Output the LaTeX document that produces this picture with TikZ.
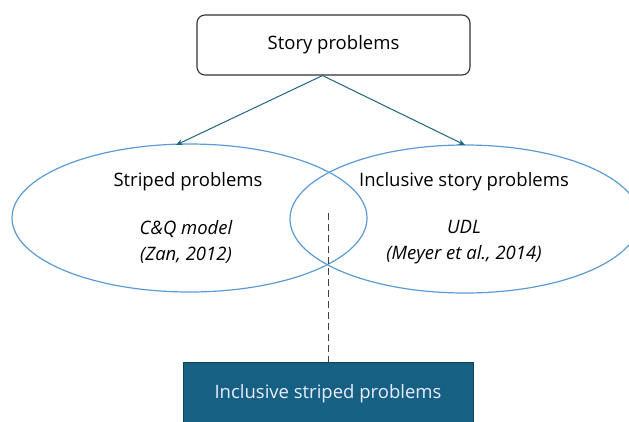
\documentclass[tikz,border=0pt]{standalone}
\usepackage{fontspec}
\setmainfont{Open Sans}
\usetikzlibrary{arrows.meta}
\definecolor{teal}{HTML}{1F6482}
\definecolor{venn}{HTML}{5B9BD5}
\definecolor{boxfill}{HTML}{166083}

\begin{document}
\begin{tikzpicture}[
    x=1pt, y=-1pt,
    >={Stealth[length=2.4mm, width=2mm]},
    line/.style   = {line width=1pt, draw=teal},
    topbox/.style = {draw=black!80, line width=1.1pt, rounded corners=8pt, fill=white,
                     minimum height=60pt, minimum width=273pt},
    txt/.style    = {font=\fontsize{18.5}{22}\selectfont},
    ref/.style    = {font=\fontsize{18.5}{26}\selectfont\itshape, align=center}
]
\useasboundingbox (0,0) rectangle (629,421);

% top category
\node[topbox, txt] (story) at (333.5, 45) {Story problems};

% two overlapping sets
\draw[venn, line width=1.2pt] (189.5, 218) ellipse [x radius=177.5, y radius=74];
\draw[venn, line width=1.2pt] (465, 219) ellipse [x radius=175, y radius=74];
\coordinate (striped) at (176, 145);
\coordinate (inclusive) at (465, 145);

\node[txt] (stripedtitle) at (188, 182) {Striped problems};
\node[ref] (cq) at (186, 242) {C\&Q model\\(Zan, 2012)};
\node[txt] (inctitle) at (464, 182) {Inclusive story problems};
\node[ref] (udl) at (464, 242) {UDL\\(Meyer et al., 2014)};

% split arrows
\draw[->, line] (story.south) ++(-11,0) coordinate (split) -- (striped);
\draw[->, line] (split) -- (inclusive);

% overlap pointer
\node[draw=boxfill!70!black, line width=1pt, fill=boxfill, text=white!92!blue, txt,
      minimum width=290pt, minimum height=62pt, anchor=north] (both) at (328, 362)
      {Inclusive striped problems};
\coordinate (overlap) at (328, 213);
\draw[dash pattern=on 7pt off 4pt, line width=1pt, black!75] (overlap) -- (both.north);

\end{tikzpicture}
\end{document}
